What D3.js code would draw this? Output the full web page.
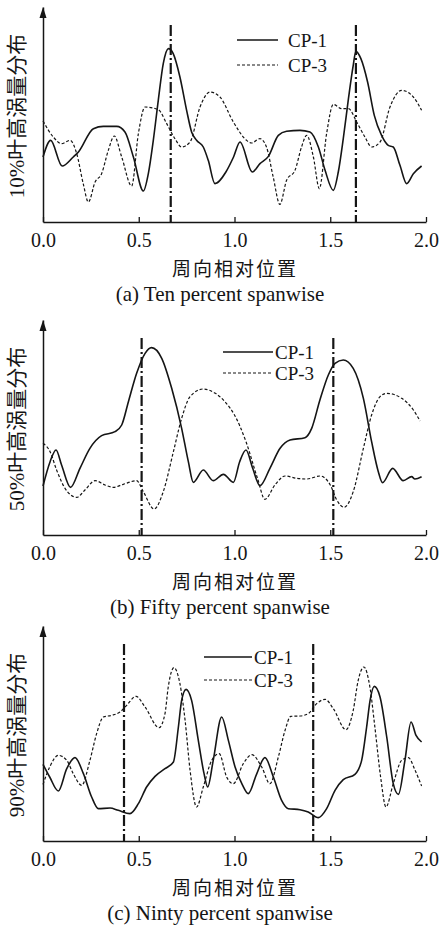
<!DOCTYPE html>
<html>
<head>
<meta charset="utf-8">
<script src="https://cdn.jsdelivr.net/npm/d3@7"></script>
<style>
  body { margin: 0; background: #fff; }
  svg { display: block; }
</style>
</head>
<body>
<div id="chart"></div>
<script>
// ---- data (arbitrary vorticity units) ----
const xTicks = [0, 0.5, 1.0, 1.5, 2.0];
const seriesNames = ["CP-1", "CP-3"];
const xTitle = "周向相对位置";
const yLabels = ["10%叶高涡量分布", "50%叶高涡量分布", "90%叶高涡量分布"];
const captions = ["(a) Ten percent spanwise", "(b) Fifty percent spanwise", "(c) Ninty percent spanwise"];
const refLines = [[0.667, 1.634], [0.515, 1.516], [0.423, 1.411]];

// 10% span
const tenX_cp1 = [0, 0.04, 0.10, 0.158, 0.185, 0.263, 0.315, 0.385, 0.428, 0.472, 0.524, 0.55, 0.576, 0.602, 0.628, 0.655, 0.68, 0.715, 0.75, 0.776, 0.802, 0.837, 0.863, 0.898, 0.955, 0.995, 1.029, 1.093, 1.133, 1.177, 1.229, 1.272, 1.342, 1.394, 1.438, 1.473, 1.516, 1.542, 1.568, 1.595, 1.62, 1.634, 1.66, 1.695, 1.73, 1.768, 1.803, 1.829, 1.864, 1.899, 1.934, 1.977];
const tenV_cp1 = [195, 245, 168, 195, 210, 280, 287, 287, 270, 195, 93, 145, 245, 365, 475, 520, 505, 435, 335, 270, 245, 225, 185, 115, 150, 195, 240, 150, 175, 197, 260, 272, 275, 270, 225, 155, 95, 150, 250, 370, 470, 512, 490, 420, 320, 260, 230, 225, 170, 115, 145, 168];
const tenX_cp3 = [0, 0.054, 0.097, 0.141, 0.176, 0.21, 0.237, 0.272, 0.306, 0.341, 0.372, 0.411, 0.463, 0.498, 0.533, 0.602, 0.646, 0.689, 0.724, 0.768, 0.82, 0.872, 0.924, 0.994, 1.063, 1.089, 1.133, 1.167, 1.202, 1.237, 1.272, 1.316, 1.35, 1.377, 1.412, 1.443, 1.481, 1.516, 1.56, 1.595, 1.638, 1.681, 1.716, 1.76, 1.812, 1.873, 1.934, 1.977];
const tenV_cp3 = [303, 255, 235, 245, 205, 115, 60, 120, 145, 215, 258, 195, 108, 265, 345, 337, 295, 250, 225, 240, 345, 390, 375, 300, 245, 237, 250, 225, 135, 53, 125, 155, 225, 260, 195, 100, 265, 353, 340, 340, 300, 255, 225, 240, 345, 395, 375, 335];

// 50% span
const fiftyX_cp1 = [0, 0.037, 0.068, 0.097, 0.144, 0.193, 0.245, 0.306, 0.376, 0.411, 0.446, 0.489, 0.533, 0.567, 0.62, 0.672, 0.724, 0.759, 0.785, 0.837, 0.889, 0.942, 0.994, 1.027, 1.06, 1.095, 1.133, 1.185, 1.238, 1.29, 1.368, 1.403, 1.446, 1.49, 1.525, 1.568, 1.62, 1.673, 1.716, 1.751, 1.773, 1.826, 1.881, 1.925, 1.942, 1.977];
const fiftyV_cp1 = [147, 220, 255, 210, 143, 200, 260, 298, 310, 330, 400, 485, 545, 562, 530, 440, 320, 220, 158, 195, 163, 182, 158, 220, 255, 200, 148, 200, 260, 285, 292, 320, 405, 480, 515, 525, 500, 410, 280, 190, 157, 200, 163, 175, 168, 175];
const fiftyX_cp3 = [0, 0.037, 0.071, 0.115, 0.176, 0.219, 0.272, 0.324, 0.367, 0.419, 0.489, 0.524, 0.58, 0.628, 0.681, 0.724, 0.768, 0.837, 0.9, 0.95, 1.0, 1.06, 1.12, 1.159, 1.211, 1.264, 1.325, 1.377, 1.447, 1.5, 1.534, 1.572, 1.62, 1.673, 1.716, 1.76, 1.795, 1.873, 1.934, 1.969];
const fiftyV_cp3 = [275, 250, 195, 140, 113, 135, 163, 150, 143, 152, 163, 130, 78, 130, 250, 350, 415, 438, 425, 400, 360, 280, 170, 107, 150, 177, 170, 168, 177, 150, 105, 83, 130, 260, 360, 415, 425, 410, 375, 342];

// 90% span
const ninetyX_cp1 = [0, 0.035, 0.08, 0.124, 0.167, 0.211, 0.254, 0.289, 0.35, 0.393, 0.454, 0.498, 0.541, 0.585, 0.637, 0.681, 0.707, 0.724, 0.747, 0.776, 0.811, 0.841, 0.86, 0.889, 0.933, 0.968, 1.003, 1.04, 1.072, 1.115, 1.159, 1.203, 1.246, 1.281, 1.342, 1.385, 1.438, 1.481, 1.525, 1.568, 1.629, 1.664, 1.69, 1.708, 1.73, 1.76, 1.795, 1.829, 1.856, 1.89, 1.922, 1.948, 1.977];
const ninetyV_cp1 = [230, 192, 150, 217, 250, 202, 132, 97, 99, 92, 82, 112, 162, 194, 217, 237, 342, 422, 455, 422, 302, 202, 162, 242, 372, 302, 222, 170, 142, 200, 250, 192, 122, 97, 94, 87, 70, 97, 152, 184, 200, 242, 342, 422, 464, 432, 312, 172, 140, 242, 357, 317, 297];
const ninetyX_cp3 = [0, 0.035, 0.08, 0.124, 0.158, 0.202, 0.245, 0.28, 0.315, 0.359, 0.402, 0.437, 0.486, 0.533, 0.606, 0.637, 0.654, 0.684, 0.715, 0.742, 0.768, 0.802, 0.837, 0.881, 0.92, 0.959, 0.994, 1.046, 1.09, 1.142, 1.185, 1.229, 1.264, 1.294, 1.342, 1.385, 1.429, 1.473, 1.516, 1.582, 1.62, 1.646, 1.676, 1.707, 1.733, 1.763, 1.791, 1.829, 1.873, 1.908, 1.943, 1.977];
const ninetyV_cp3 = [170, 222, 257, 242, 202, 167, 242, 322, 372, 377, 387, 407, 434, 402, 340, 382, 462, 520, 472, 362, 212, 102, 162, 242, 262, 192, 172, 232, 259, 222, 172, 252, 332, 374, 375, 382, 412, 425, 397, 334, 392, 482, 522, 462, 342, 192, 102, 172, 242, 250, 212, 165];

// ---- layout ----
const W = 440, H = 928;
const serif = "'Liberation Serif', 'Noto Sans CJK SC', serif";
const ink = "#151515";

const panels = [
    {base: 222, legX: [237, 278, 288], legY: [40, 65],
     s1: [tenX_cp1, tenV_cp1], s3: [tenX_cp3, tenV_cp3]},
    {base: 535, legX: [223, 273, 275], legY: [352, 373],
     s1: [fiftyX_cp1, fiftyV_cp1], s3: [fiftyX_cp3, fiftyV_cp3]},
    {base: 841, legX: [204, 252, 254], legY: [657, 680],
     s1: [ninetyX_cp1, ninetyV_cp1], s3: [ninetyX_cp3, ninetyV_cp3]}
];

let svg = d3.select("#chart")
    .append("svg")
    .attr("width", W)
    .attr("height", H);
svg.append("rect").attr("width", W).attr("height", H).attr("fill", "#fff");

let x = d3.scaleLinear().domain([0, 2]).range([43, 426]);

function zipPts(xs, vs) {
    return xs.map(function(d, i) { return [d, vs[i]]; });
}

panels.forEach(function(p, k) {
    let y = d3.scaleLinear().domain([0, 645]).range([p.base, p.base - 215]);
    let g = svg.append("g");

    let line = d3.line()
        .x(function(d) { return x(d[0]); })
        .y(function(d) { return y(d[1]); })
        .curve(d3.curveMonotoneX);

    // dash-dot reference lines
    refLines[k].forEach(function(r) {
        g.append("line")
            .attr("x1", x(r)).attr("x2", x(r))
            .attr("y1", p.base - 197).attr("y2", p.base)
            .attr("stroke", ink)
            .attr("stroke-width", 2.2)
            .attr("stroke-dasharray", "11,3,2,3");
    });

    // CP-3 dashed
    g.append("path")
        .datum(zipPts(p.s3[0], p.s3[1]))
        .attr("fill", "none")
        .attr("stroke", ink)
        .attr("stroke-width", 1.2)
        .attr("stroke-dasharray", "3,2")
        .attr("d", line);

    // CP-1 solid
    g.append("path")
        .datum(zipPts(p.s1[0], p.s1[1]))
        .attr("fill", "none")
        .attr("stroke", ink)
        .attr("stroke-width", 1.6)
        .attr("d", line);

    // x axis, ticks pointing inward
    let xa = g.append("g")
        .attr("transform", "translate(0," + p.base + ")")
        .call(d3.axisBottom(x).tickValues(xTicks).tickFormat(d3.format(".1f"))
            .tickSizeInner(-5).tickSizeOuter(0).tickPadding(11));
    xa.select(".domain").attr("stroke", ink).attr("stroke-width", 1.5);
    xa.selectAll(".tick line").attr("stroke", ink).attr("stroke-width", 1.3);
    xa.selectAll(".tick text")
        .attr("font-family", serif).attr("font-size", 20).attr("fill", ink);

    // y axis with arrow head
    let ya = g.append("g")
        .attr("transform", "translate(43,0)")
        .call(d3.axisLeft(y).tickValues([]).tickSizeOuter(0));
    ya.select(".domain").attr("stroke", ink).attr("stroke-width", 1.5);
    let top = p.base - 215;
    g.append("path")
        .attr("d", "M43," + top + "L39.5," + (top + 11) + "L46.5," + (top + 11) + "Z")
        .attr("fill", ink);

    // y label
    g.append("text")
        .attr("transform", "translate(17," + (p.base - 106) + ") rotate(-90)")
        .attr("text-anchor", "middle")
        .attr("dy", "0.35em")
        .attr("font-family", serif).attr("font-size", 21).attr("fill", ink)
        .text(yLabels[k]);

    // x title and caption
    g.append("text")
        .attr("x", 235).attr("y", p.base + 54)
        .attr("text-anchor", "middle")
        .attr("letter-spacing", 2)
        .attr("font-family", "'Noto Sans CJK SC', sans-serif").attr("font-size", 19).attr("fill", ink)
        .text(xTitle);
    g.append("text")
        .attr("x", 220).attr("y", p.base + 79)
        .attr("text-anchor", "middle")
        .attr("font-family", serif).attr("font-size", 21).attr("fill", ink)
        .text(captions[k]);

    // legend
    seriesNames.forEach(function(name, i) {
        g.append("line")
            .attr("x1", p.legX[0]).attr("x2", p.legX[1])
            .attr("y1", p.legY[i]).attr("y2", p.legY[i])
            .attr("stroke", ink)
            .attr("stroke-width", i === 0 ? 1.4 : 1.2)
            .attr("stroke-dasharray", i === 0 ? null : "3,2");
        g.append("text")
            .attr("x", p.legX[2]).attr("y", p.legY[i])
            .attr("dy", "0.35em")
            .attr("font-family", serif).attr("font-size", 19).attr("fill", ink)
            .text(name);
    });
});
</script>
</body>
</html>
